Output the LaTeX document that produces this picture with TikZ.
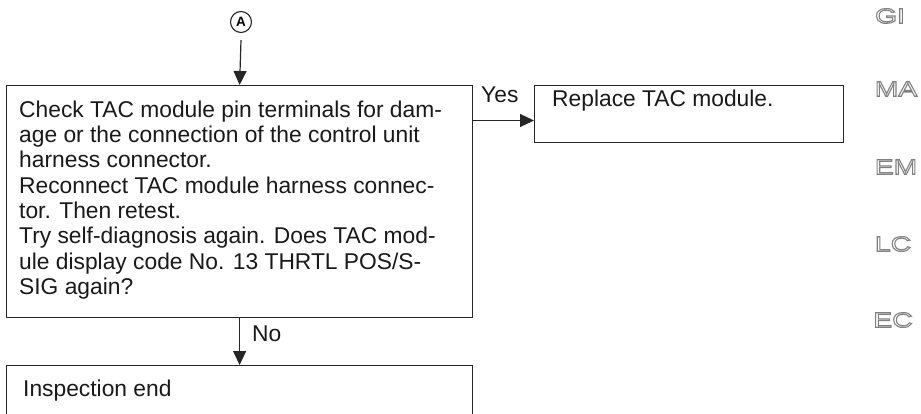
\documentclass[tikz,border=0pt]{standalone}
\usepackage{fontspec}
\setmainfont{Liberation Sans}
\newfontfamily\sidefont[FakeStretch=1.35]{Liberation Sans}
\usetikzlibrary{arrows.meta}
\newcommand\outlinetext[1]{\special{pdf:literal direct 1 Tr 1.1 w}#1\special{pdf:literal direct 0 Tr}}
\begin{document}
\begin{tikzpicture}[x=1pt,y=-1pt,
  box/.style={draw=black!85, line width=1.2pt, anchor=north west, inner sep=0pt},
  txt/.style={anchor=base west, inner sep=0pt, align=left, font=\fontsize{22.8}{25.3}\selectfont, text=black!90},
  arr/.style={draw=black!85, line width=1.2pt, -{Triangle[length=14pt,width=13pt]}},
  side/.style={inner sep=0pt, text=black!50, font=\sidefont\fontsize{21}{21}\selectfont},
  circ/.style={circle, draw=black!85, line width=1.1pt, minimum size=21pt, inner sep=0pt, font=\bfseries\fontsize{13.5}{13.5}\selectfont}
]
\clip (0,0) rectangle (921,414);
\useasboundingbox (0,0) rectangle (921,414);

\node[circ] (A) at (241,22) {A};
\node[box, minimum width=466pt, minimum height=232pt] (main) at (6,85) {};
\node[box, minimum width=309pt, minimum height=57pt] (rbox) at (534,85) {};
\node[box, minimum width=466pt, minimum height=80pt] (endbox) at (6,365) {};

\node[txt] (maintext) at (19,294.4) {Check TAC module pin terminals for dam-\\
age or the connection of the control unit\\
harness connector.\\
Reconnect TAC module harness connec-\\
tor. Then retest.\\
Try self-diagnosis again. Does TAC mod-\\
ule display code No. 13 THRTL POS/S-\\
SIG again?};
\node[txt] (rtext) at (552,107) {Replace TAC module.};
\node[txt] (endtext) at (23,396.7) {Inspection end};

\coordinate (yesstart) at (472,120.5);
\draw[arr] (A.south) ++(0,7) -- (main.north);
\draw[arr] (yesstart) -- (yesstart -| rbox.west);
\draw[arr] (main.south) -- (endbox.north);
\node[txt] (yes) at (481,102.7) {Yes};
\node[txt] (no) at (252,341) {No};

\node[side] (gi) at (890,16) {\outlinetext{GI}};
\node[side] (ma) at (896,89) {\outlinetext{MA}};
\node[side] (em) at (896,167) {\outlinetext{EM}};
\node[side] (lc) at (893,244) {\outlinetext{LC}};
\node[side] (ec) at (893,320) {\outlinetext{EC}};
\end{tikzpicture}
\end{document}
